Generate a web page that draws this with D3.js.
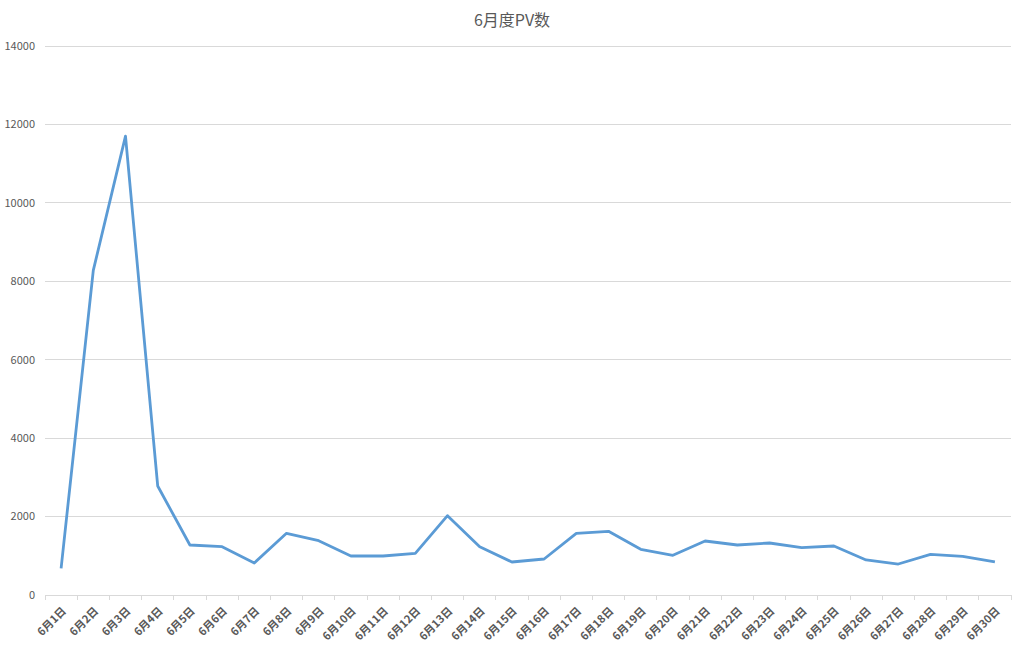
<!DOCTYPE html>
<html><head><meta charset="utf-8">
<script src="https://cdn.jsdelivr.net/npm/d3@7"></script>
<style>body{margin:0;background:#fff;}svg{display:block;}</style>
</head><body>
<svg id="c" width="1024" height="649"></svg>
<script>
const title = "6月度PV数";
const categories = ["6月1日","6月2日","6月3日","6月4日","6月5日","6月6日","6月7日","6月8日","6月9日","6月10日","6月11日","6月12日","6月13日","6月14日","6月15日","6月16日","6月17日","6月18日","6月19日","6月20日","6月21日","6月22日","6月23日","6月24日","6月25日","6月26日","6月27日","6月28日","6月29日","6月30日"];
const values = [680,8280,11700,2780,1275,1232,816,1573,1385,995,995,1063,2023,1232,842,918,1573,1624,1165,1012,1377,1275,1326,1207,1250,893,790,1037,987,842];
const yTicks = [0,2000,4000,6000,8000,10000,12000,14000];

const svg = d3.select("#c");
const font = "'Noto Sans CJK SC','Noto Sans',sans-serif";
const mLeft = 45, mRight = 1011, mTop = 46, mBottom = 595;

const x = d3.scaleBand().domain(categories).range([mLeft, mRight]);
const y = d3.scaleLinear().domain([0, 14000]).range([mBottom, mTop]);

svg.append("text").attr("x", 512).attr("y", 26).attr("text-anchor","middle")
  .attr("font-family", font).attr("font-size", 16).attr("fill","#595959").text(title);

// grid
svg.append("g").selectAll("line").data(yTicks.filter(d=>d>0)).join("line")
  .attr("x1", mLeft).attr("x2", mRight).attr("y1", d=>y(d)).attr("y2", d=>y(d))
  .attr("stroke","#d9d9d9").attr("stroke-width",1).attr("shape-rendering","crispEdges");

// y labels
svg.append("g").selectAll("text").data(yTicks).join("text")
  .attr("x", 35).attr("y", d=>y(d)).attr("dy","0.35em").attr("text-anchor","end")
  .attr("font-family", font).attr("font-size", 11).attr("fill","#595959").text(d=>d);

// x axis
const xa = svg.append("g").attr("transform", `translate(0,${mBottom})`);
xa.append("line").attr("x1", mLeft).attr("x2", mRight).attr("stroke","#d9d9d9").attr("shape-rendering","crispEdges");
const tickPos = categories.map(c=>x(c)).concat([mRight]);
xa.selectAll("line.t").data(tickPos).join("line").attr("class","t")
  .attr("x1", d=>d).attr("x2", d=>d).attr("y1",0).attr("y2",5)
  .attr("stroke","#d9d9d9").attr("shape-rendering","crispEdges");
xa.selectAll("text").data(categories).join("text")
  .attr("transform", d=>`translate(${x(d)+x.bandwidth()/2+3},${14}) rotate(-45)`)
  .attr("text-anchor","end").attr("dy","0.35em")
  .attr("font-family", font).attr("font-size", 11).attr("font-weight","bold").attr("fill","#595959").text(d=>d);

// line
const line = d3.line().x((d,i)=>x(categories[i])+x.bandwidth()/2).y(d=>y(d));
svg.append("path").datum(values).attr("d", line).attr("fill","none")
  .attr("stroke","#5b9bd5").attr("stroke-width",2.8).attr("stroke-linejoin","round");
</script>
</body></html>
